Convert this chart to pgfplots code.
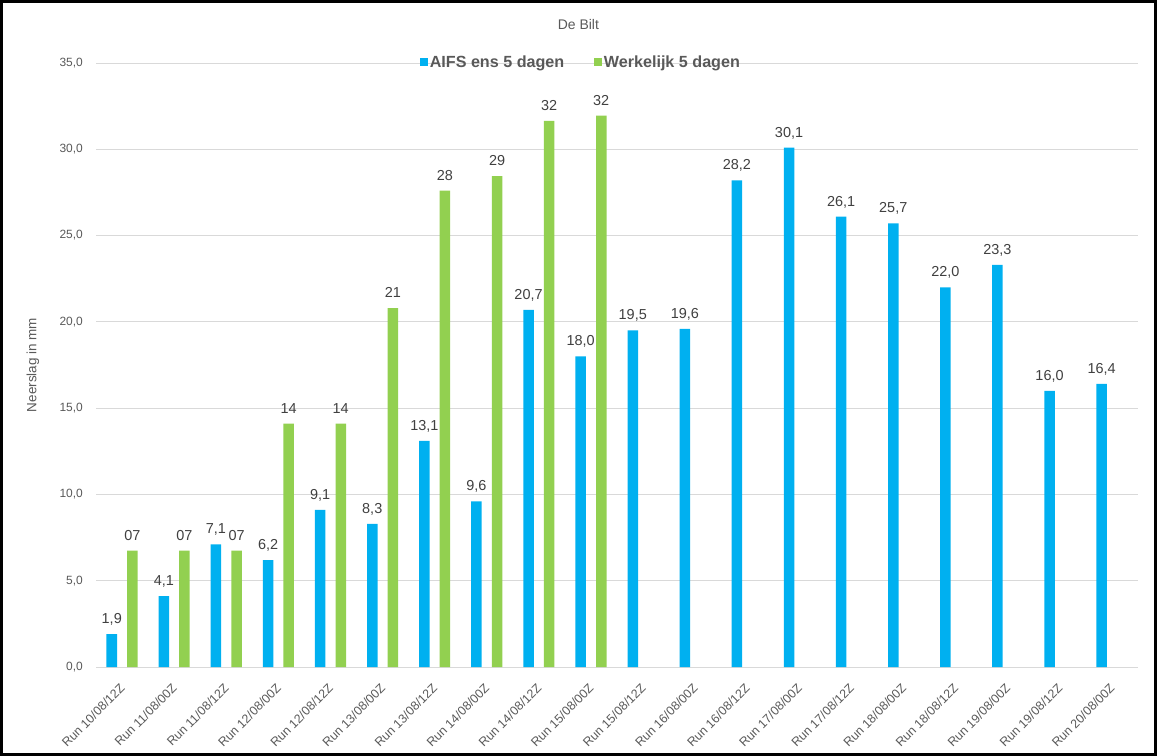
\documentclass[border=0pt]{standalone}
\usepackage{pgfplots}
\pgfplotsset{compat=1.18}
\usepackage{pgfplotstable}
\usepackage{fontspec}
\setmainfont{Liberation Sans}
\definecolor{cblue}{HTML}{00B0F0}
\definecolor{cgreen}{HTML}{92D050}
\definecolor{gridc}{HTML}{D9D9D9}
\definecolor{tickc}{HTML}{595959}
\definecolor{labc}{HTML}{404040}

\pgfplotstableread{
x y lab
0 1.9 1,9
1 4.1 4,1
2 7.1 7,1
3 6.2 6,2
4 9.1 9,1
5 8.3 8,3
6 13.1 13,1
7 9.6 9,6
8 20.7 20,7
9 18.0 18,0
10 19.5 19,5
11 19.6 19,6
12 28.2 28,2
13 30.1 30,1
14 26.1 26,1
15 25.7 25,7
16 22.0 22,0
17 23.3 23,3
18 16.0 16,0
19 16.4 16,4
}\bluedata

\pgfplotstableread{
x y lab
0 6.75 07
1 6.75 07
2 6.75 07
3 14.1 14
4 14.1 14
5 20.8 21
6 27.6 28
7 28.45 29
8 31.65 32
9 31.95 32
}\greendata

\begin{document}
\begin{tikzpicture}
\useasboundingbox (0,0) rectangle (1157bp,756bp);
\begin{axis}[
  at={(96bp,89bp)}, anchor=south west,
  width=1042bp, height=604bp, scale only axis,
  xmin=-0.5, xmax=19.5, ymin=0, ymax=35,
  ybar, bar width=10.5bp,
  axis line style={draw=none},
  major tick length=0pt,
  tick style={draw=none},
  ymajorgrids, grid style={gridc, line width=0.8bp},
  xtick={0,...,19},
  xticklabels={Run 10/08/12Z, Run 11/08/00Z, Run 11/08/12Z, Run 12/08/00Z, Run 12/08/12Z, Run 13/08/00Z, Run 13/08/12Z, Run 14/08/00Z, Run 14/08/12Z, Run 15/08/00Z, Run 15/08/12Z, Run 16/08/00Z, Run 16/08/12Z, Run 17/08/00Z, Run 17/08/12Z, Run 18/08/00Z, Run 18/08/12Z, Run 19/08/00Z, Run 19/08/12Z, Run 20/08/00Z},
  x tick label style={xshift=-3bp, yshift=-15.7bp, rotate=45, anchor=north east, font=\fontsize{12.5}{12.5}\selectfont, text=tickc, inner sep=0pt},
  ytick={0,5,...,35},
  y tick label style={/pgf/number format/fixed, /pgf/number format/fixed zerofill, /pgf/number format/precision=1, /pgf/number format/use comma, /pgf/number format/assume math mode=true, font=\fontsize{12}{12}\selectfont, text=tickc, inner sep=0pt, xshift=-13bp},
  ylabel={Neerslag in mm},
  ylabel style={at={(axis description cs:-0.0605,0.5)}, anchor=center, font=\fontsize{13.5}{13.5}\selectfont, text=tickc},
  nodes near coords,
  point meta=explicit symbolic,
  every node near coord/.append style={font=\fontsize{14.5}{14.5}\selectfont, text=labc, inner sep=0pt, anchor=base, yshift=10.5bp},
  legend style={at={(axis description cs:0.4655,1.0017)}, anchor=center, draw=none, fill=none,
     font=\bfseries\fontsize{16.2}{16.2}\selectfont, text=tickc,
     legend columns=2, /tikz/every even column/.append style={column sep=28bp}},
  legend image code/.code={\path[#1,draw=none] (0bp,-3.8bp) rectangle (7.6bp,3.8bp);},
  clip=false,
]
\addplot[fill=cblue, draw=none, bar shift=-10.3bp] table[x=x, y=y, meta=lab]{\bluedata};
\addlegendentry{AIFS ens 5 dagen}
\addplot[fill=cgreen, draw=none, bar shift=10.3bp] table[x=x, y=y, meta=lab]{\greendata};
\addlegendentry{Werkelijk 5 dagen}
\node[font=\fontsize{14}{14}\selectfont, text=tickc] at (axis description cs:0.463,1.063) {De Bilt};
\end{axis}
\draw[line width=3bp] (1.5bp,1.5bp) rectangle (1155.5bp,754.5bp);
\end{tikzpicture}
\end{document}
